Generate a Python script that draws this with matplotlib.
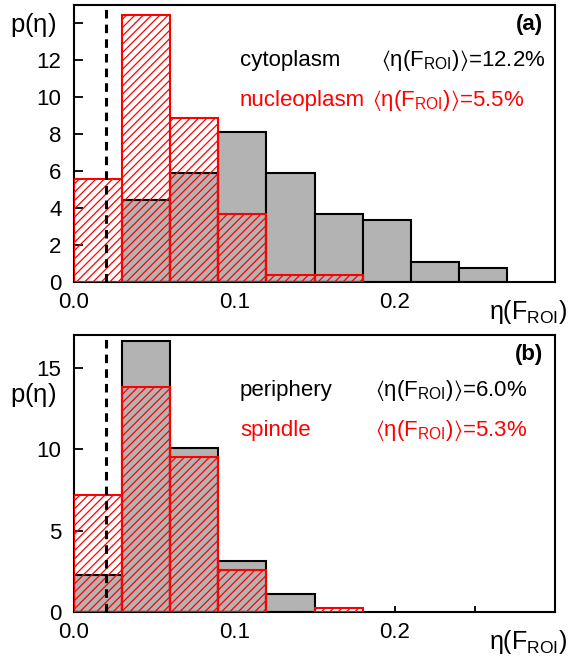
import numpy as np
import matplotlib
matplotlib.use("Agg")
import matplotlib.pyplot as plt

plt.rcParams["font.family"] = ["Liberation Sans", "DejaVu Sans"]
plt.rcParams["mathtext.fontset"] = "custom"
plt.rcParams["mathtext.rm"] = "Liberation Sans"
plt.rcParams["mathtext.it"] = "Liberation Sans"
plt.rcParams["mathtext.fallback"] = "stixsans"
plt.rcParams["hatch.linewidth"] = 0.9

# histogram bins (left edges), width 0.03
bin_left = [0.00, 0.03, 0.06, 0.09, 0.12, 0.15, 0.18, 0.21, 0.24, 0.27]
bin_width = 0.03

# panel (a)
cytoplasm = [0, 4.46, 5.92, 8.12, 5.92, 3.70, 3.34, 1.08, 0.76, 0]
nucleoplasm = [5.56, 14.45, 8.90, 3.70, 0.36, 0.36, 0, 0, 0, 0]
# panel (b)
periphery = [2.26, 16.66, 10.06, 3.14, 1.09, 0, 0, 0, 0, 0]
spindle = [7.17, 13.79, 9.49, 2.56, 0, 0.27, 0, 0, 0, 0]

threshold = 0.02

panels = [
    dict(tag="(a)", gray=cytoplasm, red=nucleoplasm,
         gray_name="cytoplasm", red_name="nucleoplasm",
         gray_mean="12.2%", red_mean="5.5%",
         ylim=15, yticks=[0, 2, 4, 6, 8, 10, 12, 14],
         yticklabels=["0", "2", "4", "6", "8", "10", "12", ""]),
    dict(tag="(b)", gray=periphery, red=spindle,
         gray_name="periphery", red_name="spindle",
         gray_mean="6.0%", red_mean="5.3%",
         ylim=17, yticks=[0, 5, 10, 15],
         yticklabels=["0", "5", "10", "15"]),
]

W, H = 570, 656
fig = plt.figure(figsize=(W / 100, H / 100), dpi=100)
boxes = [(74, 5, 555, 282), (74, 335, 555, 612)]
ylab_y = [25, 395]

mean_tex = r"$\langle\mathrm{\eta(F_{ROI})}\rangle$="

for p, (x0, y0, x1, y1), yl in zip(panels, boxes, ylab_y):
    ax = fig.add_axes([x0 / W, 1 - y1 / H, (x1 - x0) / W, (y1 - y0) / H])
    left = np.array(bin_left)
    g = np.array(p["gray"])
    r = np.array(p["red"])
    mg = g > 0
    mr = r > 0
    ax.bar(left[mg], g[mg], width=bin_width, align="edge",
           color="#b3b3b3", edgecolor="black", linewidth=1.5, zorder=2)
    ax.bar(left[mr], r[mr], width=bin_width, align="edge",
           facecolor="none", edgecolor="red", hatch="////", linewidth=1.5, zorder=3)
    ax.axvline(threshold, color="black", linestyle=(0, (2.8, 2)), linewidth=2.2, zorder=4)

    ax.set_xlim(0, 0.3)
    ax.set_ylim(0, p["ylim"])
    ax.set_xticks([0.0, 0.1, 0.2])
    ax.set_xticklabels(["0.0", "0.1", "0.2"])
    ax.set_xticks([0.05, 0.15, 0.25], minor=True)
    ax.set_yticks(p["yticks"])
    ax.set_yticklabels(p["yticklabels"])
    ax.tick_params(axis="both", direction="in", labelsize=16, width=1.3)
    ax.tick_params(axis="y", length=6.5, pad=9)
    ax.tick_params(axis="x", which="both", length=4, pad=7, width=1.3, direction="in")
    for s in ax.spines.values():
        s.set_linewidth(1.5)

    ax.text(0.975, 0.93, p["tag"], transform=ax.transAxes, ha="right", va="center",
            fontsize=16, fontweight="bold")
    ax.text(0.345, 0.80, p["gray_name"], transform=ax.transAxes, ha="left", va="center",
            fontsize=16, color="black")
    ax.text(0.345, 0.657, p["red_name"], transform=ax.transAxes, ha="left", va="center",
            fontsize=16, color="red")
    gx = 0.638 if p["tag"] == "(a)" else 0.626
    rx = 0.62 if p["tag"] == "(a)" else 0.626
    ax.text(gx, 0.80, mean_tex + p["gray_mean"], transform=ax.transAxes,
            ha="left", va="center", fontsize=16, color="black")
    ax.text(rx, 0.657, mean_tex + p["red_mean"], transform=ax.transAxes,
            ha="left", va="center", fontsize=16, color="red")

    ax.text(1.025, -0.11, r"$\mathrm{\eta(F_{ROI})}$", transform=ax.transAxes,
            ha="right", va="center", fontsize=18)
    fig.text(10 / W, 1 - yl / H, r"$\mathrm{p(\eta)}$", ha="left", va="center", fontsize=18.5)

fig.savefig("out.png", dpi=100)
